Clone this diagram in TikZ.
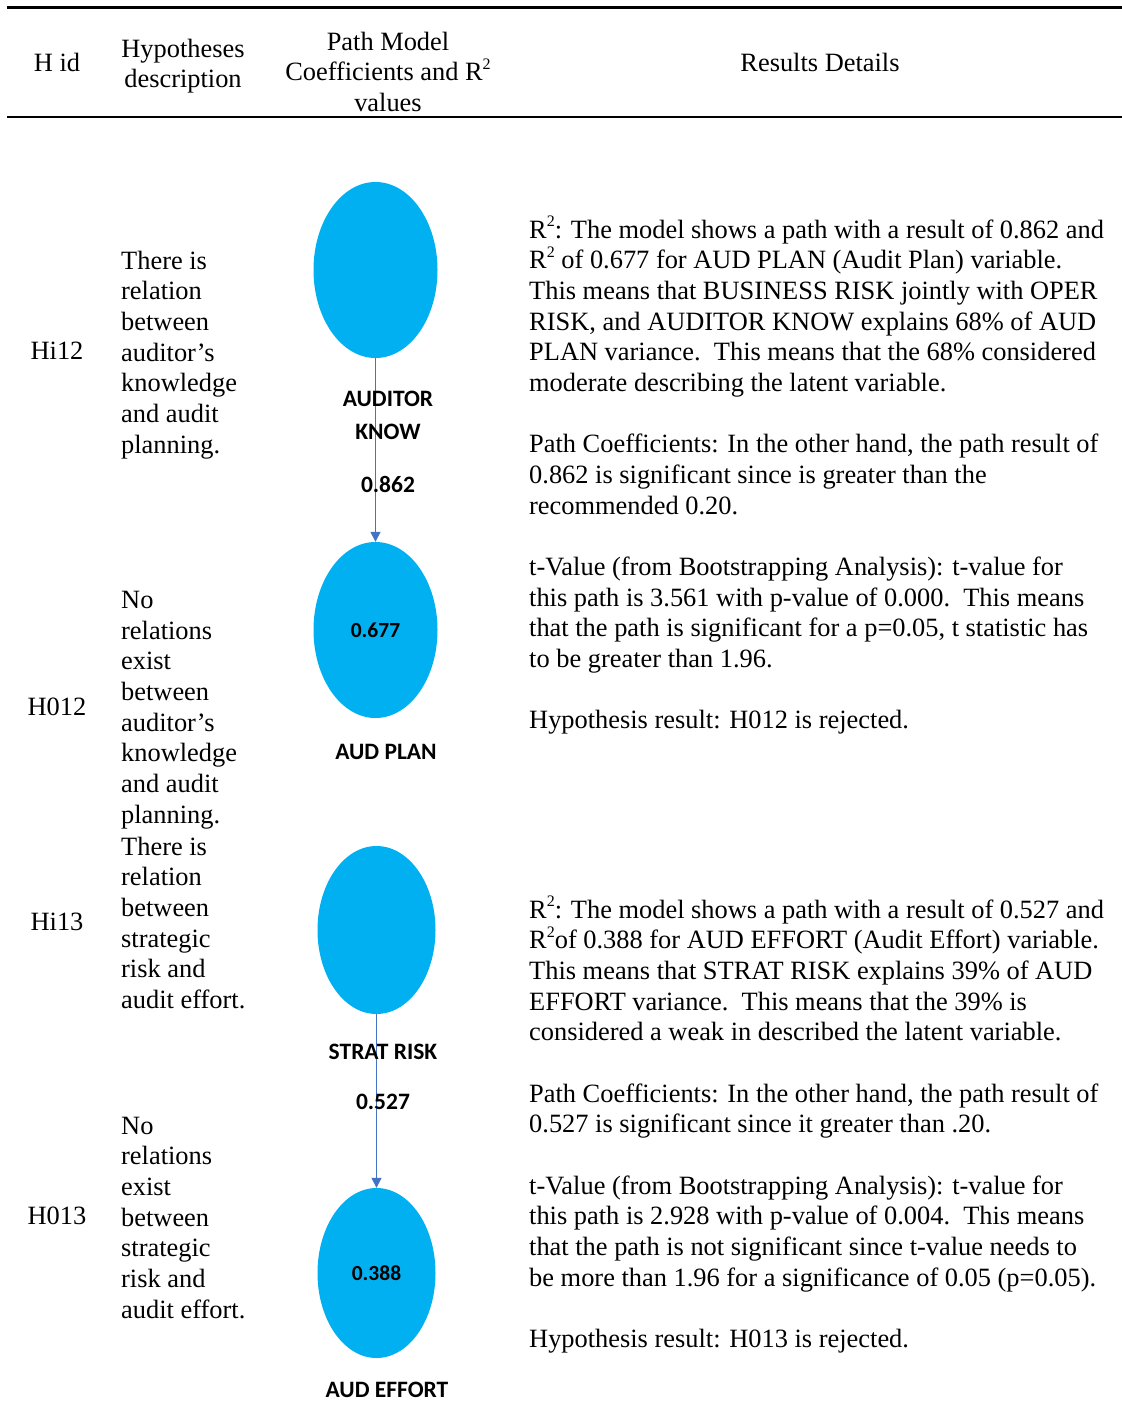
\documentclass[tikz,border=0pt]{standalone}
\usepackage{fontspec}
\setmainfont{Liberation Serif}
\newfontfamily\labfont{Carlito}
\usetikzlibrary{shapes.geometric,arrows.meta}
\definecolor{lvblue}{HTML}{00B0F0}
\definecolor{pathblue}{HTML}{4472C4}
\newcommand\sq{\raisebox{0.42em}{\fontsize{16}{16}\selectfont 2}}
\begin{document}
\begin{tikzpicture}[x=1pt,y=1pt,
  txt/.style={font=\fontsize{26.4}{30.67}\selectfont, inner sep=0pt, anchor=base west},
  hdr/.style={font=\fontsize{26.4}{30.67}\selectfont, inner sep=0pt, anchor=base},
  latent/.style={ellipse, fill=lvblue, draw=none, inner sep=0pt},
  lab/.style={font=\labfont\bfseries\fontsize{23.5}{26}\selectfont, inner sep=0pt, anchor=center},
  val/.style={font=\labfont\bfseries\fontsize{21.5}{24}\selectfont, inner sep=0pt, anchor=center},
  rule/.style={line width=2.6pt},
  pathline/.style={draw=pathblue, line width=1.4pt, -{Triangle[length=10pt,width=10pt]}}]
\useasboundingbox (0,0) rectangle (1122,-1414);

% table rules
\draw[rule] (7,-7.5) -- (1122,-7.5);
\draw[rule] (7,-117) -- (1122,-117);

% header
\node[hdr] (hid) at (57,-71) {H id};
\node[hdr] (hdesc1) at (183,-57) {Hypotheses};
\node[hdr] (hdesc2) at (183,-87.5) {description};
\node[hdr] (hpm1) at (388,-50) {Path Model};
\node[hdr] (hpm2) at (388,-80.5) {Coefficients and R\sq};
\node[hdr] (hpm3) at (388,-111) {values};
\node[hdr] (hres) at (820,-71) {Results Details};

% hypothesis ids
\node[hdr] (idA) at (57,-359) {Hi12};
\node[hdr] (idB) at (57,-715) {H012};
\node[hdr] (idC) at (57,-930) {Hi13};
\node[hdr] (idD) at (57,-1224) {H013};

% hypothesis descriptions
\foreach \k/\t in {0/There is,1/relation,2/between,3/auditor’s,4/knowledge,5/and audit,6/planning.}
  \node[txt] (da\k) at (121,{-269-30.67*\k}) {\t};
\foreach \k/\t in {0/No,1/relations,2/exist,3/between,4/auditor’s,5/knowledge,6/and audit,7/planning.}
  \node[txt] (db\k) at (121,{-608.5-30.67*\k}) {\t};
\foreach \k/\t in {0/There is,1/relation,2/between,3/strategic,4/risk and,5/audit effort.}
  \node[txt] (dc\k) at (121,{-855-30.67*\k}) {\t};
\foreach \k/\t in {0/No,1/relations,2/exist,3/between,4/strategic,5/risk and,6/audit effort.}
  \node[txt] (dd\k) at (121,{-1134-30.67*\k}) {\t};

% path model: auditor knowledge -> audit plan
\node[latent, minimum width=124pt, minimum height=176pt] (know) at (375.5,-270) {};
\node[latent, minimum width=124pt, minimum height=176pt] (plan) at (375.5,-630) {};
\node[val] (planr) at (plan.center) {0.677};
\draw[pathline] (know.south) -- (plan.north);
\node[lab] (knowa) at (388,-399) {AUDITOR};
\node[lab] (knowb) at (388,-432) {KNOW};
\node[lab] (coefA) at (388,-484) {0.862};
\node[lab] (planl) at (386,-752) {AUD PLAN};

% path model: strategic risk -> audit effort
\node[latent, minimum width=118pt, minimum height=168pt] (strat) at (376.5,-930) {};
\node[latent, minimum width=118pt, minimum height=170pt] (effort) at (376.5,-1273) {};
\node[val] (effortr) at (effort.center) {0.388};
\draw[pathline] (strat.south) -- (effort.north);
\node[lab] (stratl) at (383,-1052) {STRAT RISK};
\node[lab] (coefB) at (383,-1102) {0.527};
\node[lab] (effortl) at (387,-1390) {AUD EFFORT};

% results details, first pair of hypotheses
\foreach \k/\t in {
  0/{R\sq: The model shows a path with a result of 0.862 and},
  1/{R\sq{} of 0.677 for AUD PLAN (Audit Plan) variable.},
  2/{This means that BUSINESS RISK jointly with OPER},
  3/{RISK, and AUDITOR KNOW explains 68\% of AUD},
  4/{PLAN variance.\ \ This means that the 68\% considered},
  5/{moderate describing the latent variable.},
  7/{Path Coefficients: In the other hand, the path result of},
  8/{0.862 is significant since is greater than the},
  9/{recommended 0.20.},
  11/{t-Value (from Bootstrapping Analysis): t-value for},
  12/{this path is 3.561 with p-value of 0.000.\ \ This means},
  13/{that the path is significant for a p=0.05, t statistic has},
  14/{to be greater than 1.96.},
  16/{Hypothesis result: H012 is rejected.}}
  \node[txt] (ra\k) at (529,{-238-30.67*\k}) {\t};

% results details, second pair of hypotheses
\foreach \k/\t in {
  0/{R\sq: The model shows a path with a result of 0.527 and},
  1/{R\sq of 0.388 for AUD EFFORT (Audit Effort) variable.},
  2/{This means that STRAT RISK explains 39\% of AUD},
  3/{EFFORT variance.\ \ This means that the 39\% is},
  4/{considered a weak in described the latent variable.},
  6/{Path Coefficients: In the other hand, the path result of},
  7/{0.527 is significant since it greater than .20.},
  9/{t-Value (from Bootstrapping Analysis): t-value for},
  10/{this path is 2.928 with p-value of 0.004.\ \ This means},
  11/{that the path is not significant since t-value needs to},
  12/{be more than 1.96 for a significance of 0.05 (p=0.05).},
  14/{Hypothesis result: H013 is rejected.}}
  \node[txt] (rb\k) at (529,{-918-30.67*\k}) {\t};
\end{tikzpicture}
\end{document}
